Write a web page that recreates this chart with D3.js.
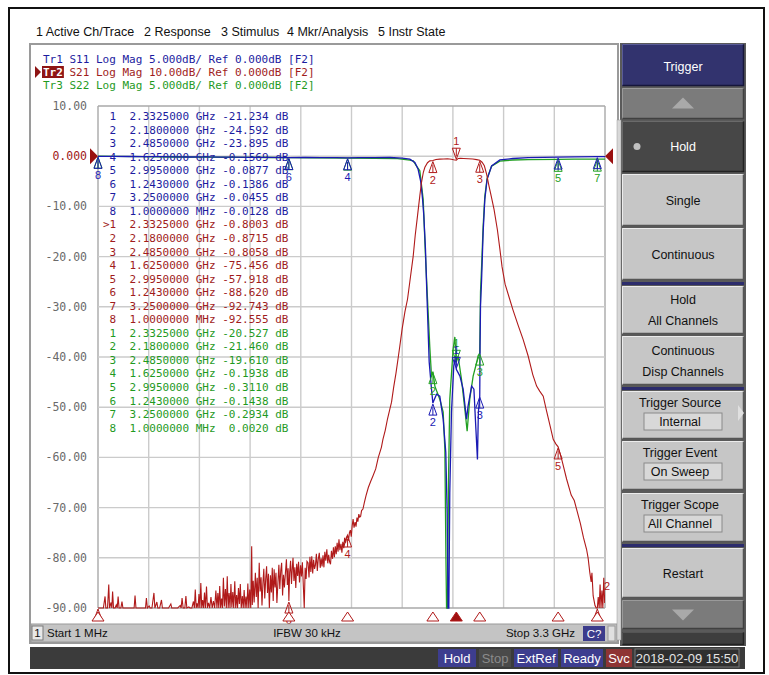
<!DOCTYPE html>
<html><head><meta charset="utf-8">
<script src="https://cdn.jsdelivr.net/npm/d3@7"></script>
<style>body{margin:0;background:#fff}svg{display:block}</style>
</head><body><svg id="c" width="769" height="675"></svg>
<script>
// ---------------- DATA ----------------
const menuItems = ["1 Active Ch/Trace","2 Response","3 Stimulus","4 Mkr/Analysis","5 Instr State"];
const traceHeaders = ["Tr1 S11 Log Mag 5.000dB/ Ref 0.000dB [F2]","Tr2 S21 Log Mag 10.00dB/ Ref 0.000dB [F2]","Tr3 S22 Log Mag 5.000dB/ Ref 0.000dB [F2]"];
const yTickVals = [10,0,-10,-20,-30,-40,-50,-60,-70,-80,-90];
const yTickLabels = ["10.00","0.000","-10.00","-20.00","-30.00","-40.00","-50.00","-60.00","-70.00","-80.00","-90.00"];
const freqStart = 0.001, freqStop = 3.3; // GHz
const markerFreqs = [2.3325,2.18,2.485,1.625,2.995,1.243,3.25,0.001];
const markerFreqLabels = ["2.3325000 GHz","2.1800000 GHz","2.4850000 GHz","1.6250000 GHz","2.9950000 GHz","1.2430000 GHz","3.2500000 GHz","1.0000000 MHz"];
const s11Markers = [-21.234,-24.592,-23.895,-0.1569,-0.0877,-0.1386,-0.0455,-0.0128];
const s21Markers = [-0.8003,-0.8715,-0.8058,-75.456,-57.918,-88.620,-92.743,-92.555];
const s22Markers = [-20.527,-21.460,-19.610,-0.1938,-0.3110,-0.1438,-0.2934,0.0020];

// S21 trace [GHz, dB]
const s21 = [
[0.001,-92.6],[0.012,-94.1],[0.024,-93.0],[0.036,-95.2],[0.047,-87.7],[0.052,-94.0],[0.063,-91.8],[0.071,-85.3],[0.076,-93.5],[0.086,-88.9],[0.091,-95.0],[0.096,-86.7],[0.102,-94.2],[0.112,-92.7],[0.120,-89.4],[0.126,-95.1],[0.132,-87.7],[0.138,-93.8],[0.150,-94.6],[0.157,-88.7],[0.163,-95.3],[0.180,-93.4],[0.200,-94.8],[0.220,-93.1],[0.236,-95.0],[0.242,-87.5],[0.248,-94.2],[0.270,-95.6],[0.290,-93.7],[0.310,-94.5],[0.316,-88.0],[0.322,-93.9],[0.334,-89.6],[0.340,-95.1],[0.352,-93.2],[0.365,-87.0],[0.371,-94.4],[0.384,-88.8],[0.390,-95.0],[0.402,-93.3],[0.414,-88.4],[0.420,-94.7],[0.440,-95.2],[0.460,-93.8],[0.475,-89.2],[0.481,-94.9],[0.500,-93.4],[0.520,-95.3],[0.536,-89.5],[0.542,-94.1],[0.548,-88.0],[0.555,-95.0],[0.566,-92.5],[0.573,-87.6],[0.579,-94.3],[0.592,-89.8],[0.600,-95.4],[0.612,-93.0],[0.622,-88.7],[0.628,-93.9],[0.634,-86.3],[0.640,-92.4],[0.646,-89.1],[0.652,-94.6],[0.658,-87.2],[0.664,-91.8],[0.670,-85.0],[0.676,-93.1],[0.682,-88.4],[0.688,-95.2],[0.694,-86.9],[0.700,-92.0],[0.707,-85.7],[0.713,-94.0],[0.720,-89.0],[0.728,-93.6],[0.736,-87.8],[0.744,-95.0],[0.752,-88.6],[0.760,-93.2],[0.768,-86.5],[0.775,-91.4],[0.781,-87.0],[0.787,-92.8],[0.793,-85.6],[0.799,-90.6],[0.805,-88.1],[0.811,-94.0],[0.817,-84.0],[0.823,-89.7],[0.830,-86.2],[0.836,-92.5],[0.842,-83.7],[0.848,-90.1],[0.854,-87.0],[0.860,-93.7],[0.866,-85.2],[0.872,-89.9],[0.878,-86.8],[0.884,-91.3],[0.891,-84.7],[0.897,-90.5],[0.903,-87.4],[0.909,-93.2],[0.915,-86.0],[0.921,-89.2],[0.927,-85.2],[0.933,-91.7],[0.940,-87.6],[0.946,-93.0],[0.952,-86.4],[0.958,-90.3],[0.964,-87.7],[0.970,-92.2],[0.976,-85.1],[0.982,-90.0],[0.988,-86.3],[0.995,-91.5],[1.001,-77.7],[1.005,-89.4],[1.011,-84.6],[1.017,-88.9],[1.025,-83.0],[1.031,-87.8],[1.037,-84.0],[1.043,-90.4],[1.050,-81.0],[1.056,-86.7],[1.062,-83.9],[1.068,-89.5],[1.074,-85.1],[1.080,-82.2],[1.086,-88.1],[1.092,-84.3],[1.098,-81.7],[1.104,-87.0],[1.110,-83.2],[1.116,-90.2],[1.123,-83.5],[1.129,-86.9],[1.135,-82.0],[1.141,-88.6],[1.147,-82.3],[1.153,-85.9],[1.159,-83.0],[1.165,-89.0],[1.172,-84.8],[1.178,-81.4],[1.184,-86.2],[1.190,-82.6],[1.196,-81.0],[1.202,-87.5],[1.208,-83.4],[1.214,-85.9],[1.221,-82.8],[1.227,-80.3],[1.233,-85.4],[1.238,-82.1],[1.243,-88.6],[1.248,-83.0],[1.254,-80.6],[1.260,-85.2],[1.266,-81.7],[1.270,-80.0],[1.276,-84.6],[1.282,-81.9],[1.288,-86.0],[1.294,-81.2],[1.300,-83.6],[1.306,-80.8],[1.312,-84.9],[1.319,-81.5],[1.325,-83.7],[1.331,-80.9],[1.337,-85.5],[1.343,-90.5],[1.349,-82.0],[1.355,-84.2],[1.361,-80.7],[1.368,-81.0],[1.374,-83.9],[1.380,-79.8],[1.386,-82.8],[1.392,-79.7],[1.398,-83.1],[1.404,-80.4],[1.410,-82.2],[1.416,-81.4],[1.422,-79.2],[1.428,-82.6],[1.434,-80.3],[1.441,-79.0],[1.447,-82.0],[1.453,-80.1],[1.459,-81.7],[1.465,-79.5],[1.471,-81.9],[1.477,-78.8],[1.483,-80.6],[1.490,-78.3],[1.496,-81.1],[1.502,-79.4],[1.508,-80.8],[1.514,-81.3],[1.520,-78.6],[1.527,-80.2],[1.533,-77.9],[1.539,-79.9],[1.545,-77.7],[1.551,-79.3],[1.557,-77.0],[1.563,-78.8],[1.569,-76.3],[1.575,-78.5],[1.582,-77.2],[1.588,-79.0],[1.594,-76.8],[1.600,-78.1],[1.606,-76.0],[1.612,-77.0],[1.618,-75.9],[1.625,-75.5],[1.631,-76.6],[1.637,-75.0],[1.643,-74.5],[1.649,-75.8],[1.655,-73.6],[1.661,-72.3],[1.667,-74.0],[1.674,-72.9],[1.680,-73.8],[1.686,-72.0],[1.692,-72.8],[1.698,-71.3],[1.704,-71.9],[1.710,-71.7],[1.716,-70.6],[1.725,-70.3],[1.734,-69.0],[1.745,-67.6],[1.760,-66.0],[1.775,-64.8],[1.790,-63.7],[1.808,-62.3],[1.825,-60.0],[1.845,-58.0],[1.855,-56.4],[1.870,-54.6],[1.885,-52.3],[1.900,-50.4],[1.911,-49.0],[1.925,-46.0],[1.940,-43.2],[1.955,-40.0],[1.965,-37.8],[1.980,-34.4],[1.998,-31.0],[2.015,-28.5],[2.030,-25.0],[2.052,-19.9],[2.065,-15.8],[2.080,-11.9],[2.095,-7.9],[2.106,-5.2],[2.118,-3.2],[2.128,-2.2],[2.145,-1.3],[2.160,-0.93],[2.180,-0.87],[2.200,-0.65],[2.225,-0.58],[2.250,-0.55],[2.275,-0.50],[2.300,-0.60],[2.315,-0.70],[2.3325,-0.80],[2.345,-0.45],[2.360,-0.42],[2.380,-0.45],[2.410,-0.50],[2.440,-0.55],[2.465,-0.68],[2.485,-0.81],[2.500,-1.2],[2.515,-1.9],[2.530,-3.6],[2.545,-5.9],[2.560,-8.0],[2.578,-10.6],[2.600,-14.7],[2.616,-18.5],[2.630,-22.0],[2.650,-25.5],[2.680,-28.5],[2.700,-30.5],[2.735,-33.7],[2.767,-36.5],[2.800,-39.8],[2.830,-43.5],[2.855,-45.8],[2.875,-46.8],[2.898,-47.8],[2.920,-50.8],[2.945,-54.0],[2.963,-56.4],[2.980,-57.3],[2.995,-57.9],[3.020,-60.6],[3.050,-64.3],[3.080,-67.5],[3.100,-68.6],[3.115,-70.3],[3.140,-73.2],[3.160,-76.0],[3.180,-78.3],[3.190,-80.0],[3.201,-82.9],[3.210,-84.8],[3.215,-83.0],[3.223,-87.6],[3.235,-89.5],[3.243,-91.2],[3.250,-92.7],[3.256,-87.8],[3.262,-93.4],[3.268,-85.3],[3.274,-90.6],[3.280,-86.5],[3.286,-92.4],[3.292,-84.0],[3.298,-89.0],[3.300,-87.5]
];

// S11 trace [GHz, dB]
const s11 = [
[0.001,-0.013],[0.1,-0.02],[0.2,-0.03],[0.3,-0.05],[0.4,-0.04],[0.5,-0.06],[0.6,-0.08],[0.7,-0.07],[0.8,-0.09],[0.9,-0.10],[1.0,-0.11],[1.1,-0.12],[1.243,-0.139],[1.35,-0.13],[1.45,-0.15],[1.55,-0.14],[1.625,-0.157],[1.7,-0.15],[1.8,-0.14],[1.9,-0.13],[1.98,-0.2],[2.03,-0.3],[2.063,-0.63],[2.084,-1.3],[2.102,-2.6],[2.113,-4.3],[2.121,-5.9],[2.132,-9.3],[2.139,-12.8],[2.145,-15.5],[2.156,-20.5],[2.171,-23.2],[2.18,-24.59],[2.19,-24.2],[2.204,-23.7],[2.225,-23.9],[2.247,-26.2],[2.264,-29.5],[2.273,-35.5],[2.279,-50],[2.284,-48],[2.29,-33.5],[2.301,-25.5],[2.316,-20.9],[2.327,-19.9],[2.3325,-21.23],[2.356,-21.9],[2.377,-23.2],[2.399,-26.2],[2.409,-24.9],[2.432,-22.9],[2.447,-23.2],[2.46,-27.2],[2.47,-30.2],[2.476,-25.5],[2.485,-23.9],[2.487,-18.9],[2.49,-14.9],[2.497,-12.3],[2.507,-7.6],[2.518,-4.3],[2.533,-2.3],[2.562,-0.97],[2.616,-0.37],[2.7,-0.23],[2.8,-0.15],[2.9,-0.11],[2.995,-0.088],[3.1,-0.06],[3.25,-0.046],[3.3,-0.04]
];

// S22 trace [GHz, dB]
const s22 = [
[0.001,0.002],[0.1,-0.01],[0.3,-0.05],[0.5,-0.08],[0.7,-0.10],[0.9,-0.12],[1.1,-0.13],[1.243,-0.144],[1.4,-0.16],[1.625,-0.194],[1.8,-0.22],[1.95,-0.25],[2.03,-0.4],[2.052,-0.47],[2.074,-1.0],[2.095,-1.46],[2.117,-4.3],[2.132,-10.0],[2.145,-14.2],[2.16,-19.0],[2.171,-21.9],[2.18,-21.46],[2.193,-22.9],[2.225,-24.2],[2.247,-25.5],[2.258,-29.2],[2.265,-40],[2.269,-50],[2.275,-48],[2.282,-32],[2.29,-24.2],[2.312,-19.2],[2.323,-18.0],[2.3325,-20.53],[2.344,-19.9],[2.366,-22.2],[2.388,-25.2],[2.403,-27.4],[2.42,-24.2],[2.442,-21.9],[2.464,-20.6],[2.474,-19.9],[2.485,-19.61],[2.487,-17.0],[2.49,-13.5],[2.497,-11.0],[2.507,-7.0],[2.518,-4.0],[2.533,-2.2],[2.562,-1.0],[2.616,-0.5],[2.7,-0.38],[2.8,-0.34],[2.995,-0.311],[3.1,-0.30],[3.25,-0.293],[3.3,-0.29]
];

const statusLeft = "Start 1 MHz", statusMid = "IFBW 30 kHz", statusRight = "Stop 3.3 GHz";
const statusItems = ["Hold","Stop","ExtRef","Ready","Svc","2018-02-09 15:50"];

// ---------------- DRAW ----------------
const svg = d3.select("#c");
const MONO = "'DejaVu Sans Mono', monospace";
const SANS = "'Liberation Sans', Arial, sans-serif";
const cBlue = "#1a1ab4", cRed = "#b01a1a", cGreen = "#22a022";
const tBlue = "#1c1ca0", tRed = "#a01c1c", tGreen = "#1f9a1f";

// outer frame
svg.append("rect").attr("x",9).attr("y",8).attr("width",755).attr("height",665)
  .attr("fill","#fff").attr("stroke","#111").attr("stroke-width",2);

// menu
const menuX = [36,144,221,287,378];
menuItems.forEach((m,i)=>svg.append("text").attr("x",menuX[i]).attr("y",36).text(m)
  .attr("font-family",SANS).attr("font-size",12.5).attr("fill","#111"));

// chart window
svg.append("rect").attr("x",30).attr("y",44).attr("width",588).attr("height",599)
  .attr("fill","#fff").attr("stroke","#9a9a9a").attr("stroke-width",2);

// plot geometry
const L=98, R=605, T=106, B=608;
const x = d3.scaleLinear().domain([freqStart,freqStop]).range([L,R]);
const y21 = d3.scaleLinear().domain([-90,10]).range([B,T]).clamp(true);
const y11 = d3.scaleLinear().domain([-45,5]).range([B,T]).clamp(true);

// trace headers
const hdrColors=[tBlue,tRed,tGreen];
traceHeaders.forEach((h,i)=>{
  const by = 63 + i*13;
  if(i===1){
    const t0 = svg.append("text").attr("x",43).attr("y",by).attr("font-family",MONO).attr("font-size",11).text("Tr2");
    const w = t0.node().getComputedTextLength(); t0.remove();
    svg.append("rect").attr("x",42).attr("y",by-10).attr("width",w+2).attr("height",12).attr("fill","#8e1414");
    svg.append("path").attr("d",`M35,${by-10} L41,${by-4} L35,${by+2} Z`).attr("fill","#8e1414");
    svg.append("text").attr("x",43).attr("y",by).attr("font-family",MONO).attr("font-size",11)
      .attr("fill","#fff").attr("font-weight","bold").text("Tr2");
    svg.append("text").attr("x",43+w).attr("y",by).attr("font-family",MONO).attr("font-size",11)
      .attr("fill",hdrColors[i]).style("white-space","pre").text(h.slice(3));
  } else {
    svg.append("text").attr("x",43).attr("y",by).attr("font-family",MONO).attr("font-size",11)
      .attr("fill",hdrColors[i]).style("white-space","pre").text(h);
  }
});

// grid
const grid = svg.append("g");
for(let i=0;i<=10;i++){
  const gx = x(freqStart + i*(freqStop-freqStart)/10);
  grid.append("line").attr("x1",gx).attr("x2",gx).attr("y1",T).attr("y2",B)
    .attr("stroke",(i===0||i===10)?"#a8a8a8":"#cbcbcb").attr("stroke-width",1.4);
}
yTickVals.forEach((v,i)=>{
  const gy = y21(v);
  grid.append("line").attr("x1",L).attr("x2",R).attr("y1",gy).attr("y2",gy)
    .attr("stroke",(i===0||i===10)?"#a8a8a8":"#cbcbcb").attr("stroke-width",1.4);
  svg.append("text").attr("x",87).attr("y",gy+4).attr("text-anchor","end")
    .attr("font-family",MONO).attr("font-size",11.5)
    .attr("fill", v===0 ? "#a01818" : "#6a6a6a").text(yTickLabels[i]);
});

// reference triangles
svg.append("path").attr("d",`M90,${y21(0)-8} L98,${y21(0)} L90,${y21(0)+8} Z`).attr("fill","#9a1010");
svg.append("path").attr("d",`M613,${y21(0)-8} L605,${y21(0)} L613,${y21(0)+8} Z`).attr("fill","#9a1010");

// marker table
const tableRows = [];
[[s11Markers,tBlue,false],[s21Markers,tRed,true],[s22Markers,tGreen,false]].forEach(([vals,col,act])=>{
  vals.forEach((v,i)=>{
    const vs = (Math.abs(v)>=10 ? v.toFixed(3) : v.toFixed(4)).padStart(7," ");
    const pre = (act && i===0) ? ">" : " ";
    tableRows.push({t: pre + (i+1) + "  " + markerFreqLabels[i] + " " + vs + " dB", c: col});
  });
});
tableRows.forEach((r,i)=>{
  svg.append("text").attr("x",103).attr("y",120 + i*13.55).attr("font-family",MONO).attr("font-size",11)
    .attr("fill",r.c).style("white-space","pre").text(r.t);
});

// traces
const clipId="plotclip";
svg.append("clipPath").attr("id",clipId).append("rect").attr("x",L).attr("y",T-2).attr("width",R-L).attr("height",B-T+3);
const tr = svg.append("g").attr("clip-path",`url(#${clipId})`);
const line11 = d3.line().x(d=>x(d[0])).y(d=>y11(d[1]));
const line21 = d3.line().x(d=>x(d[0])).y(d=>y21(d[1]));
tr.append("path").datum(s22).attr("d",line11).attr("fill","none").attr("stroke",cGreen).attr("stroke-width",1.3);
tr.append("path").datum(s11).attr("d",line11).attr("fill","none").attr("stroke",cBlue).attr("stroke-width",1.3);
tr.append("path").datum(s21).attr("d",line21).attr("fill","none").attr("stroke",cRed).attr("stroke-width",1.1);

// markers
svg.append("clipPath").attr("id","mkclip").append("rect").attr("x",88).attr("y",100).attr("width",530).attr("height",524);
const mk = svg.append("g").attr("clip-path","url(#mkclip)");
function drawMarkers(vals, yS, col, showLabel){
  vals.forEach((v,i)=>{
    const px = x(markerFreqs[i]), py = yS(v);
    const offBottom = v < yS.domain()[0];
    if(i===0){
      mk.append("path").attr("d",`M${px},${py-1} L${px-4},${py-12} L${px+4},${py-12} Z`)
        .attr("fill","none").attr("stroke",col).attr("stroke-width",1);
      mk.append("line").attr("x1",px).attr("x2",px).attr("y1",py-12).attr("y2",py-4).attr("stroke",col);
      if(showLabel(i)) mk.append("text").attr("x",px).attr("y",py-15).attr("text-anchor","middle")
        .attr("font-family",SANS).attr("font-size",11).attr("fill",col).text(i+1);
    } else {
      mk.append("path").attr("d",`M${px},${py+1} L${px-4},${py+12} L${px+4},${py+12} Z`)
        .attr("fill","none").attr("stroke",col).attr("stroke-width",1);
      mk.append("line").attr("x1",px).attr("x2",px).attr("y1",py+4).attr("y2",py+12).attr("stroke",col);
      if(!offBottom && showLabel(i)) mk.append("text").attr("x",px).attr("y",py+23).attr("text-anchor","middle")
        .attr("font-family",SANS).attr("font-size",11).attr("fill",col).text(i+1);
    }
  });
}
// S22 labels for out-of-band markers coincide with S11 ones: only passband ones for green
drawMarkers(s22Markers, y11, cGreen, i => i<3 || i===4 || i===6);
drawMarkers(s11Markers, y11, cBlue, i => !(i===4 || i===6));
drawMarkers(s21Markers, y21, cRed, () => true);

// active-trace marker indicators under the axis
markerFreqs.forEach((f,i)=>{
  const px = x(f);
  svg.append("path").attr("d",`M${px},${B+4} L${px-6},${B+13} L${px+6},${B+13} Z`)
    .attr("fill", i===0 ? "#a01010" : "#fff").attr("stroke","#b01a1a").attr("stroke-width",1);
});
svg.append("text").attr("x",604).attr("y",590).attr("font-family",SANS).attr("font-size",11).attr("fill",cRed).text("2");

// status bar inside chart window
svg.append("rect").attr("x",31).attr("y",624).attr("width",586).attr("height",18).attr("fill","#c4c4c4").attr("stroke","#9a9a9a");
svg.append("rect").attr("x",32).attr("y",626).attr("width",11).attr("height",14).attr("fill","#e8e8e8").attr("stroke","#7a7a7a");
svg.append("text").attr("x",37.5).attr("y",637).attr("text-anchor","middle").attr("font-family",SANS).attr("font-size",11.5).attr("fill","#111").text("1");
svg.append("text").attr("x",47).attr("y",637).attr("font-family",SANS).attr("font-size",11.5).attr("fill","#111").text(statusLeft);
svg.append("text").attr("x",307).attr("y",637).attr("text-anchor","middle").attr("font-family",SANS).attr("font-size",11.5).attr("fill","#111").text(statusMid);
svg.append("text").attr("x",575).attr("y",637).attr("text-anchor","end").attr("font-family",SANS).attr("font-size",11.5).attr("fill","#111").text(statusRight);
svg.append("rect").attr("x",583).attr("y",626).attr("width",22).attr("height",15).attr("fill","#3c3c8c");
svg.append("text").attr("x",594).attr("y",637.5).attr("text-anchor","middle").attr("font-family",SANS).attr("font-size",11.5).attr("fill","#fff").text("C?");
svg.append("rect").attr("x",608).attr("y",626).attr("width",7).attr("height",15).attr("fill","#e0e0e0").attr("stroke","#9a9a9a");

// instrument status bar
svg.append("rect").attr("x",30).attr("y",647).attr("width",715).attr("height",22).attr("fill","#3b3b3b");
const stX = [438,479,514,561,606,635], stW=[38,32,44,42,26,104];
const stFill = ["#3d3d8f","#4a4a4a","#3d3d8f","#3d3d8f","#8e3434","#2f2f2f"];
const stText = ["#fff","#8a8a8a","#fff","#fff","#fff","#e4e4e4"];
statusItems.forEach((s,i)=>{
  svg.append("rect").attr("x",stX[i]).attr("y",649).attr("width",stW[i]).attr("height",18)
    .attr("fill",stFill[i]).attr("stroke", i===5?"#777":"none");
  svg.append("text").attr("x",stX[i]+stW[i]/2).attr("y",662.5).attr("text-anchor","middle")
    .attr("font-family",SANS).attr("font-size",13).attr("fill",stText[i]).text(s);
});

// softkey panel
svg.append("rect").attr("x",620).attr("y",43).attr("width",126).attr("height",603).attr("fill","#5a5a5a");
svg.append("rect").attr("x",617).attr("y",120).attr("width",4).attr("height",520).attr("fill","#d8d8d8").attr("stroke","#999").attr("stroke-width",0.5);
const PX=622, PW=122;
const buttons = [
 {y:44,h:42,type:"title",lines:["Trigger"]},
 {y:88,h:31,type:"up"},
 {y:121,h:51,type:"sel",lines:["Hold"]},
 {y:174,h:52,lines:["Single"]},
 {y:228,h:52,lines:["Continuous"]},
 {y:282,h:3,type:"sep"},
 {y:286,h:48,lines:["Hold","All Channels"]},
 {y:336,h:49,lines:["Continuous","Disp Channels"]},
 {y:387,h:3,type:"sep"},
 {y:391,h:48,lines:["Trigger Source"],box:"Internal",arrow:true},
 {y:441,h:49,lines:["Trigger Event"],box:"On Sweep"},
 {y:493,h:49,lines:["Trigger Scope"],box:"All Channel"},
 {y:544,h:3,type:"sep"},
 {y:548,h:50,lines:["Restart"]},
 {y:600,h:29,type:"down"},
 {y:632,h:13,type:"dark"}
];
function bevel(y,h,fill,lt,dk){
  svg.append("rect").attr("x",PX).attr("y",y).attr("width",PW).attr("height",h).attr("fill",fill);
  svg.append("path").attr("d",`M${PX+0.5},${y+h-0.5} V${y+0.5} H${PX+PW-0.5}`).attr("fill","none").attr("stroke",lt);
  svg.append("path").attr("d",`M${PX+0.5},${y+h-0.5} H${PX+PW-0.5} V${y+0.5}`).attr("fill","none").attr("stroke",dk).attr("stroke-width",1.5);
}
const cx = PX+PW/2;
buttons.forEach(b=>{
  if(b.type==="sep"){ svg.append("rect").attr("x",PX).attr("y",b.y).attr("width",PW).attr("height",b.h).attr("fill","#2c2c6c"); return; }
  if(b.type==="title"){
    bevel(b.y,b.h,"#32336e","#5a5c98","#16163a");
    svg.append("text").attr("x",cx).attr("y",b.y+b.h/2+5.5).attr("text-anchor","middle").attr("font-family",SANS).attr("font-size",12.5).attr("fill","#fff").text(b.lines[0]);
    return;
  }
  if(b.type==="up"||b.type==="down"){
    bevel(b.y,b.h,"#7b7b7b","#9a9a9a","#404040");
    const my=b.y+b.h/2;
    const d = b.type==="up" ? `M${cx-11},${my+5} L${cx},${my-6} L${cx+11},${my+5} Z` : `M${cx-11},${my-5} L${cx},${my+6} L${cx+11},${my-5} Z`;
    svg.append("path").attr("d",d).attr("fill","#a9a9a9");
    return;
  }
  if(b.type==="dark"){ bevel(b.y,b.h,"#3e3e3e","#555","#222"); return; }
  if(b.type==="sel"){
    bevel(b.y,b.h,"#474747","#6a6a6a","#222");
    svg.append("circle").attr("cx",PX+15).attr("cy",b.y+b.h/2).attr("r",3.5).attr("fill","#c0c0c0");
    svg.append("text").attr("x",cx).attr("y",b.y+b.h/2+4.5).attr("text-anchor","middle").attr("font-family",SANS).attr("font-size",12.5).attr("fill","#fff").text(b.lines[0]);
    return;
  }
  bevel(b.y,b.h,"#c6c6c6","#ececec","#555");
  if(b.box){
    svg.append("text").attr("x",cx-3).attr("y",b.y+16).attr("text-anchor","middle").attr("font-family",SANS).attr("font-size",12.5).attr("fill","#111").text(b.lines[0]);
    svg.append("rect").attr("x",PX+22).attr("y",b.y+22).attr("width",PW-44).attr("height",17).attr("fill","#d8d8d8").attr("stroke","#8a8a8a");
    svg.append("text").attr("x",cx-3).attr("y",b.y+35).attr("text-anchor","middle").attr("font-family",SANS).attr("font-size",12.5).attr("fill","#111").text(b.box);
    if(b.arrow) svg.append("path").attr("d",`M${PX+PW-6},${b.y+14} L${PX+PW},${b.y+22} L${PX+PW-6},${b.y+30} Z`).attr("fill","#e0e0e0");
  } else if(b.lines.length===2){
    svg.append("text").attr("x",cx).attr("y",b.y+b.h/2-6).attr("text-anchor","middle").attr("font-family",SANS).attr("font-size",12.5).attr("fill","#111").text(b.lines[0]);
    svg.append("text").attr("x",cx).attr("y",b.y+b.h/2+15).attr("text-anchor","middle").attr("font-family",SANS).attr("font-size",12.5).attr("fill","#111").text(b.lines[1]);
  } else {
    svg.append("text").attr("x",cx).attr("y",b.y+b.h/2+4.5).attr("text-anchor","middle").attr("font-family",SANS).attr("font-size",12.5).attr("fill","#111").text(b.lines[0]);
  }
});
</script></body></html>
